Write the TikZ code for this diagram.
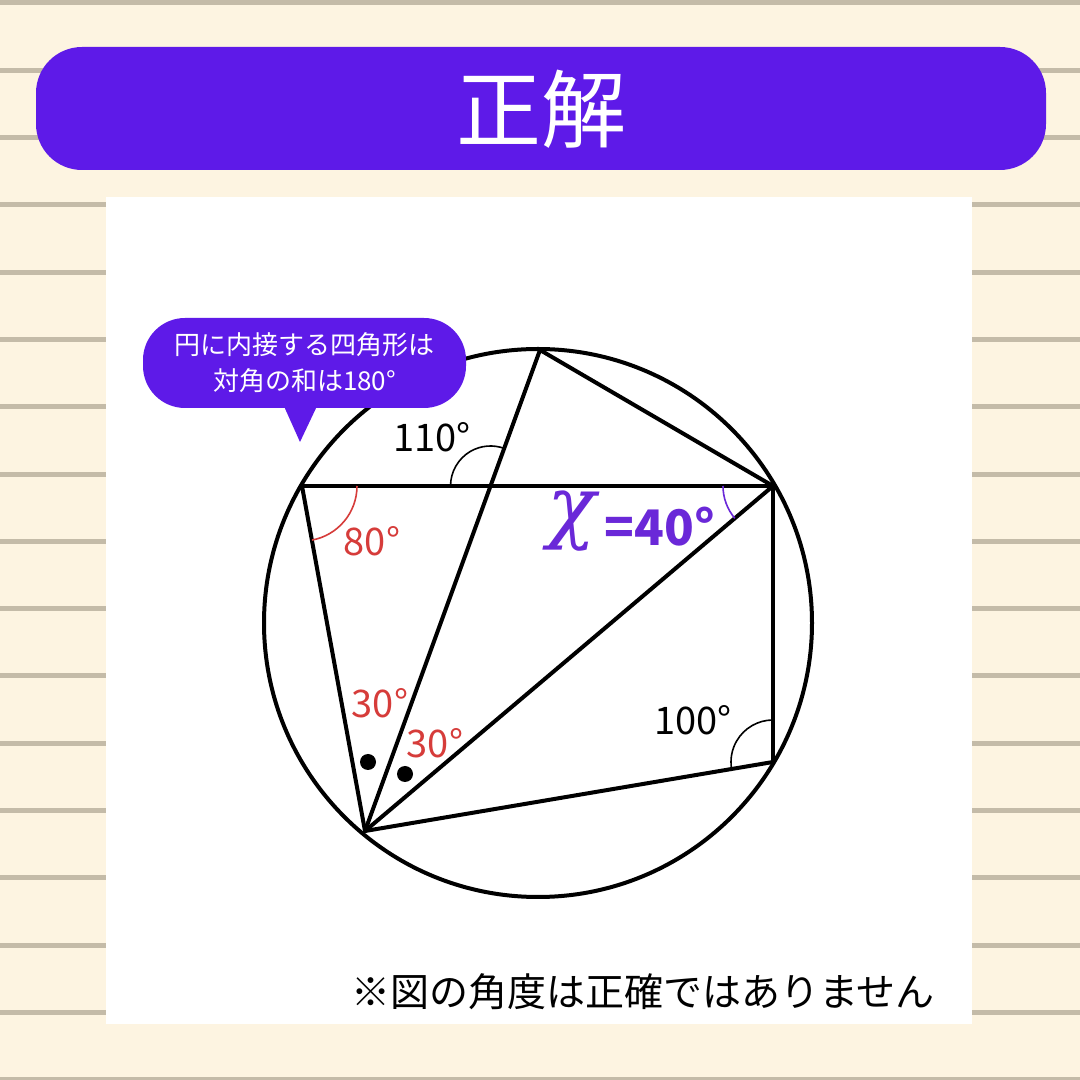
\documentclass[tikz,border=0pt]{standalone}
\usepackage{fontspec}
\setmainfont{Noto Sans CJK JP}
\newfontfamily\chifont{DejaVu Serif}
\usetikzlibrary{calc}
\definecolor{cream}{RGB}{253,244,225}
\definecolor{stripe}{RGB}{196,187,168}
\definecolor{hdr}{RGB}{94,26,232}
\definecolor{redlab}{RGB}{214,60,58}
\definecolor{purlab}{RGB}{106,40,216}
\tikzset{
  geo/.style={line width=4pt, line join=round, line cap=round},
  angarc/.style={line width=1.6pt},
  numlab/.style={font=\fontsize{38}{38}\selectfont, inner sep=0pt},
}
\begin{document}
\begin{tikzpicture}[x=1pt,y=1pt]
\useasboundingbox (0,0) rectangle (1080,1080);
\fill[cream] (0,0) rectangle (1080,1080);
\foreach \k in {0,...,16} {
  \fill[stripe] (0,{1077-67.3*\k-2.5}) rectangle (1080,{1077-67.3*\k+2.5});
}
% header
\node[fill=hdr, rounded corners=46pt, minimum width=1010pt, minimum height=123pt, inner sep=0pt] (hdr) at (541,971.5) {};
\node[text=white, font=\fontsize{85}{85}\selectfont, inner sep=0pt] (title) at (541,971) {正解};
% panel
\fill[white] (106,56) rectangle (972,883);
% geometry
\coordinate (O) at (538,457);
\coordinate (A) at (540,730);
\coordinate (B) at (302,594);
\coordinate (C) at (773,594);
\coordinate (D) at (365,249);
\coordinate (E) at (773,318);
\coordinate (P) at (intersection of A--D and B--C);
\draw[geo] (O) circle (274);
\draw[geo] (A) -- (C);
\draw[geo] (B) -- (C);
\draw[geo] (B) -- (D);
\draw[geo] (A) -- (D);
\draw[geo] (D) -- (C);
\draw[geo] (C) -- (E);
\draw[geo] (E) -- (D);
% angle arcs
\draw[angarc] ($(P)+(180:40)$) arc[start angle=180, end angle=69, radius=40];
\draw[angarc, redlab] ($(B)+(0:55)$) arc[start angle=0, end angle=-79.6, radius=55];
\draw[angarc, purlab] ($(C)+(180:50)$) arc[start angle=180, end angle=220.2, radius=50];
\draw[angarc] ($(E)+(90:42)$) arc[start angle=90, end angle=189.6, radius=42];
\fill (368,318) circle (8) coordinate (dot1);
\fill (405,306) circle (8) coordinate (dot2);
% labels
\node[numlab] (l110) at (432,643) {110°};
\node[numlab, text=redlab] (l80) at (372,539) {80°};
\node[numlab, text=redlab] (l30a) at (380,377) {30°};
\node[numlab, text=redlab] (l30b) at (435,337) {30°};
\node[numlab] (l100) at (693,360) {100°};
\node[text=purlab, inner sep=0pt, anchor=base, font=\chifont\itshape\fontsize{80}{80}\selectfont] (chi) at (572,546) {χ};
\node[text=purlab, font=\fontsize{49}{49}\selectfont\bfseries, inner sep=0pt] (eq) at (660,553) {=40°};
% bubble
\fill[hdr] (283,676) -- (318,676) -- (300,638) -- cycle;
\node[fill=hdr, rounded corners=42pt, minimum width=323pt, minimum height=90pt, inner sep=0pt] (bub) at (304.5,717) {};
\node[text=white, font=\fontsize{26}{36}\selectfont, align=center, inner sep=0pt] (bubtxt) at (304.5,717) {円に内接する四角形は\\対角の和は180°};
% note
\node[font=\fontsize{39}{39}\selectfont, inner sep=0pt] (note) at (643,88) {※図の角度は正確ではありません};
\end{tikzpicture}
\end{document}
